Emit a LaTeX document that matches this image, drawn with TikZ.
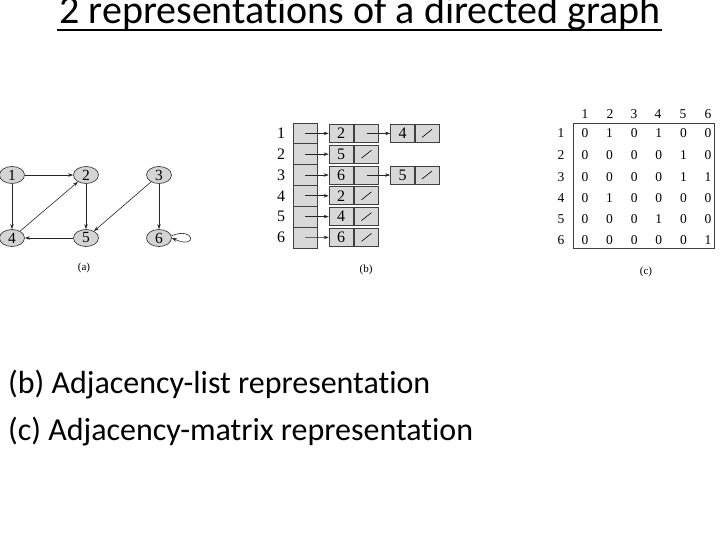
\documentclass[tikz,border=0pt]{standalone}
\usepackage{fontspec}
\setmainfont{Carlito}[Ligatures={NoCommon,NoContextual}]
\newfontfamily\diagfont{Liberation Serif}
\newcommand\tki{t\kern0pt i}
\usetikzlibrary{arrows.meta,shapes.geometric}
\definecolor{nodegray}{RGB}{212,212,212}
\definecolor{cellgray}{RGB}{216,216,216}
\begin{document}
\begin{tikzpicture}[x=1pt,y=-1pt,
  vert/.style={ellipse,draw=black!75,fill=nodegray,line width=0.7pt,minimum width=25pt,minimum height=17pt,inner sep=0pt,font=\diagfont\fontsize{15.5}{15.5}\selectfont},
  garrow/.style={draw=black!85,line width=0.6pt,-{Stealth[length=5pt,width=3.5pt]}},
  cell/.style={draw=black!75,fill=cellgray,line width=0.6pt,minimum width=24pt,minimum height=18pt,inner sep=0pt,font=\diagfont\fontsize{16}{16}\selectfont},
  acell/.style={draw=black!75,fill=cellgray,line width=0.6pt,minimum width=24pt,minimum height=20.8pt,inner sep=0pt},
  lbl/.style={font=\diagfont\fontsize{16}{16}\selectfont,inner sep=0pt},
  mlbl/.style={font=\diagfont\fontsize{13.5}{13.5}\selectfont,inner sep=0pt},
  caplbl/.style={font=\diagfont\fontsize{11}{11}\selectfont,inner sep=0pt},
  body/.style={font=\fontsize{32}{38}\selectfont,anchor=base west,inner sep=0pt}
]
\useasboundingbox (0,0) rectangle (720,540);
% title
\node[font=\fontsize{40}{48}\selectfont,anchor=base,inner sep=0pt] (title) at (360,24) {2 representa\tki ons of a directed graph};
\draw[line width=2.8pt] (57,30) coordinate (ul1) -- (662,30) coordinate (ul2);

% (a) graph
\node[vert] (n1) at (12,175) {1};
\node[vert] (n2) at (86,175) {2};
\node[vert] (n3) at (159,175) {3};
\node[vert] (n4) at (12,238) {4};
\node[vert] (n5) at (86,238) {5};
\node[vert] (n6) at (159,238) {6};
\draw[garrow] (n1) -- (n2);
\draw[garrow] (n1) -- (n4);
\draw[garrow] (n4) -- (n2);
\draw[garrow] (n2) -- (n5);
\draw[garrow] (n5) -- (n4);
\draw[garrow] (n3) -- (n5);
\draw[garrow] (n3) -- (n6);
\draw[garrow] (n6.10) .. controls (195,226) and (198,250) .. (n6.east);
\node[caplbl] (capa) at (84,268) {(a)};

% (b) adjacency list
\foreach \i/\y in {1/133.4,2/154.2,3/175,4/195.8,5/216.6,6/237.4}{
  \node[lbl] (r\i) at (281,\y) {\i};
  \node[acell] (a\i) at (305,\y) {};
}
\foreach \i/\k in {1/2,2/5,3/6,4/2,5/4,6/6}{
  \node[cell] (k\i) at (341,{133.4+(\i-1)*20.8}) {\k};
  \node[cell] (p\i) at (366.5,{133.4+(\i-1)*20.8}) {};
  \draw[garrow] (a\i.center) -- (k\i.west);
}
\foreach \i in {2,4,5,6}{
  \draw[line width=0.6pt] ([shift={(-5,4)}]p\i.center) -- ([shift={(5,-4)}]p\i.center);
}
\node[cell] (k1b) at (402.5,133.4) {4};
\node[cell] (p1b) at (427,133.4) {};
\draw[line width=0.6pt] ([shift={(-5,4)}]p1b.center) -- ([shift={(5,-4)}]p1b.center);
\node[cell] (k3b) at (402.5,175) {5};
\node[cell] (p3b) at (427,175) {};
\draw[line width=0.6pt] ([shift={(-5,4)}]p3b.center) -- ([shift={(5,-4)}]p3b.center);
\draw[garrow] (p1.center) -- (k1b.west);
\draw[garrow] (p3.center) -- (k3b.west);
\node[caplbl] (capb) at (366,270) {(b)};

% (c) adjacency matrix
\draw[line width=0.6pt,draw=black!75] (573,123) rectangle (714,248);
\foreach \j/\x in {1/585,2/610,3/634,4/658,5/683,6/708}{
  \node[mlbl] (h\j) at (\x,114) {\j};
}
\foreach \i/\y in {1/133,2/155,3/177,4/198,5/219,6/240}{
  \node[mlbl] (v\i) at (561,\y) {\i};
}
\foreach \row/\y/\vals in {1/133/{0,1,0,1,0,0},2/155/{0,0,0,0,1,0},3/177/{0,0,0,0,1,1},4/198/{0,1,0,0,0,0},5/219/{0,0,0,1,0,0},6/240/{0,0,0,0,0,1}}{
  \foreach \v [count=\c] in \vals {
    \node[mlbl] (m\row\c) at ({585+(\c-1)*24.6},\y) {\v};
  }
}
\node[caplbl] (capc) at (646,272) {(c)};

% body text
\node[body] (t1) at (8,393) {(b) Adjacency-list representa\tki on};
\node[body] (t2) at (8,440) {(c) Adjacency-matrix representa\tki on};
\end{tikzpicture}
\end{document}
